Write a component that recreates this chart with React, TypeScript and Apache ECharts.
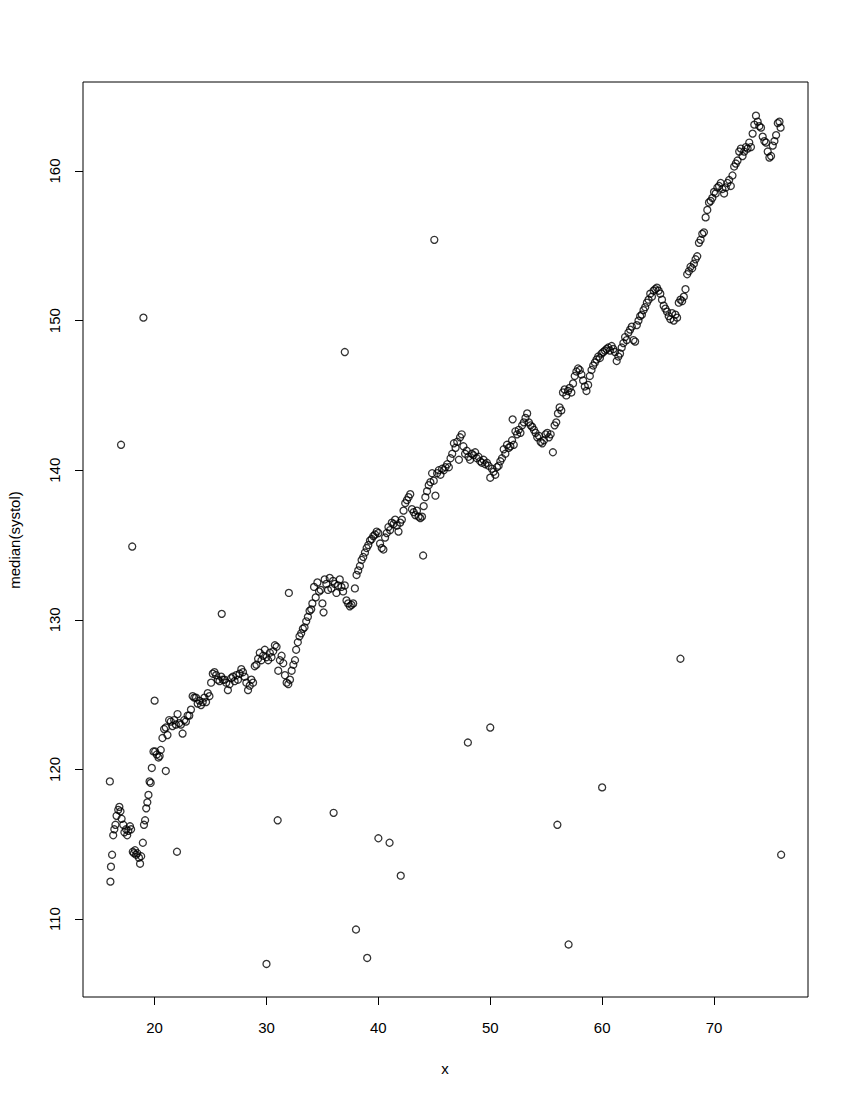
import React, { useEffect, useRef } from "react";
import * as echarts from "echarts";

// Smoothed-looking main band: x (age) and median systolic
const curveX = [
  16.05, 16.1, 16.2, 16.3, 16.4, 16.5, 16.6, 16.75, 16.85, 16.95, 17.05, 17.2, 17.3, 17.45, 17.55, 17.65, 17.8, 17.9,
  18.05, 18.15, 18.25, 18.35, 18.45, 18.6, 18.7, 18.8, 18.95, 19.05, 19.15, 19.25, 19.35, 19.45, 19.55, 19.65, 19.75, 19.9,
  20.05, 20.2, 20.35, 20.45, 20.55, 20.7, 20.85, 21.0, 21.15, 21.3, 21.45, 21.6, 21.75, 21.9, 22.05, 22.2, 22.35, 22.5,
  22.65, 22.8, 22.95, 23.1, 23.25, 23.4, 23.55, 23.7, 23.85, 24.0, 24.15, 24.3, 24.45, 24.6, 24.75, 24.9, 25.05, 25.2,
  25.35, 25.5, 25.65, 25.8, 25.95, 26.1, 26.25, 26.4, 26.55, 26.7, 26.85, 27.0, 27.15, 27.3, 27.45, 27.6, 27.75, 27.9,
  28.05, 28.2, 28.35, 28.5, 28.65, 28.8, 28.95, 29.1, 29.25, 29.4, 29.55, 29.7, 29.85, 30.0, 30.15, 30.3, 30.45, 30.6,
  30.75, 30.9, 31.05, 31.2, 31.35, 31.5, 31.65, 31.8, 31.95, 32.1, 32.25, 32.4, 32.55, 32.65, 32.8, 32.95, 33.1, 33.25,
  33.4, 33.55, 33.7, 33.85, 34.0, 34.1, 34.25, 34.4, 34.55, 34.7, 34.85, 35.0, 35.1, 35.2, 35.35, 35.5, 35.65, 35.8,
  35.95, 36.1, 36.25, 36.4, 36.55, 36.7, 36.85, 37.0, 37.15, 37.3, 37.45, 37.6, 37.75, 37.9, 38.05, 38.2, 38.35, 38.5,
  38.65, 38.8, 38.95, 39.1, 39.25, 39.4, 39.55, 39.7, 39.85, 40.0, 40.15, 40.3, 40.45, 40.6, 40.75, 40.9, 41.05, 41.2,
  41.35, 41.5, 41.65, 41.8, 41.95, 42.1, 42.25, 42.4, 42.55, 42.7, 42.85, 43.0, 43.15, 43.3, 43.45, 43.6, 43.75, 43.9,
  44.05, 44.2, 44.35, 44.5, 44.65, 44.8, 44.95, 45.1, 45.25, 45.4, 45.55, 45.7, 45.85, 46.0, 46.15, 46.3, 46.45, 46.6,
  46.75, 46.9, 47.05, 47.2, 47.3, 47.45, 47.6, 47.75, 47.9, 48.05, 48.2, 48.35, 48.5, 48.65, 48.8, 48.95, 49.1, 49.25,
  49.4, 49.55, 49.7, 49.85, 50.0, 50.15, 50.3, 50.45, 50.6, 50.75, 50.9, 51.05, 51.2, 51.35, 51.5, 51.65, 51.8, 51.95,
  52.1, 52.25, 52.4, 52.55, 52.7, 52.85, 53.0, 53.15, 53.3, 53.45, 53.6, 53.75, 53.9, 54.05, 54.2, 54.35, 54.5, 54.65,
  54.8, 54.95, 55.1, 55.25, 55.4, 55.6, 55.75, 55.9, 56.05, 56.2, 56.35, 56.5, 56.65, 56.8, 56.95, 57.1, 57.25, 57.4,
  57.55, 57.7, 57.85, 58.0, 58.15, 58.3, 58.45, 58.6, 58.75, 58.9, 59.05, 59.2, 59.35, 59.5, 59.65, 59.8, 59.95, 60.1,
  60.25, 60.4, 60.55, 60.7, 60.85, 61.0, 61.15, 61.3, 61.45, 61.6, 61.75, 61.9, 62.05, 62.2, 62.35, 62.5, 62.65, 62.8,
  62.95, 63.1, 63.25, 63.4, 63.55, 63.7, 63.85, 64.0, 64.15, 64.3, 64.45, 64.6, 64.75, 64.9, 65.05, 65.2, 65.35, 65.5,
  65.65, 65.8, 65.95, 66.1, 66.25, 66.4, 66.55, 66.7, 66.85, 67.0, 67.15, 67.3, 67.45, 67.6, 67.75, 67.9, 68.05, 68.2,
  68.35, 68.5, 68.65, 68.8, 68.95, 69.1, 69.25, 69.4, 69.55, 69.7, 69.85, 70.0, 70.15, 70.3, 70.45, 70.6, 70.75, 70.9,
  71.05, 71.2, 71.35, 71.5, 71.65, 71.8, 71.95, 72.1, 72.25, 72.4, 72.55, 72.7, 72.85, 73.0, 73.15, 73.3, 73.45, 73.6,
  73.75, 73.9, 74.05, 74.2, 74.35, 74.5, 74.65, 74.8, 74.95, 75.1, 75.25, 75.4, 75.55, 75.7, 75.85, 75.95,
];
const curveY = [
  112.5, 113.5, 114.3, 115.6, 116.0, 116.3, 116.9, 117.3, 117.5, 117.2, 116.7, 116.3, 115.8, 116.0, 115.6, 115.9, 116.2, 116.0,
  114.5, 114.4, 114.6, 114.3, 114.4, 114.1, 113.7, 114.2, 115.1, 116.3, 116.6, 117.4, 117.8, 118.3, 119.2, 119.1, 120.1, 121.2,
  121.2, 121.0, 120.8, 120.9, 121.3, 122.1, 122.7, 122.8, 122.3, 123.3, 123.2, 122.9, 123.3, 123.0, 123.7, 123.1, 123.0, 122.4,
  123.3, 123.2, 123.6, 123.6, 124.0, 124.9, 124.8, 124.8, 124.4, 124.6, 124.3, 124.5, 124.8, 124.5, 125.1, 124.9, 125.8, 126.4,
  126.5, 126.3, 126.0, 125.9, 126.2, 126.0, 126.0, 125.8, 125.3, 125.7, 126.1, 126.2, 125.9, 126.3, 126.0, 126.4, 126.7, 126.5,
  126.2, 125.8, 125.3, 125.6, 126.0, 125.8, 126.9, 127.0, 127.4, 127.8, 127.3, 127.6, 128.0, 127.5, 127.3, 127.8, 127.5, 127.9,
  128.3, 128.2, 126.6, 127.3, 127.6, 127.1, 126.3, 125.8, 125.7, 126.0, 126.6, 127.0, 127.3, 128.0, 128.5, 128.9, 129.1, 129.4,
  129.5, 129.9, 130.2, 130.6, 130.7, 131.1, 132.2, 131.5, 132.5, 131.9, 132.0, 131.1, 130.5, 132.7, 132.4, 132.0, 132.8, 132.1,
  132.6, 132.4, 131.8, 132.3, 132.7, 132.2, 131.9, 132.3, 131.3, 131.1, 130.9, 131.0, 131.1, 132.1, 133.0, 133.3, 133.6, 134.0,
  134.2, 134.5, 134.8, 135.0, 135.3, 135.4, 135.6, 135.7, 135.9, 135.8, 135.1, 134.8, 134.7, 135.5, 135.8, 136.2, 136.0, 136.5,
  136.4, 136.7, 136.3, 135.9, 136.5, 136.7, 137.3, 137.8, 138.0, 138.2, 138.4, 137.4, 137.2, 137.0, 137.3, 136.9, 136.8, 136.9,
  137.6, 138.2, 138.6, 139.0, 139.2, 139.8, 139.3, 138.3, 139.8, 140.0, 139.7, 140.1, 140.0, 140.2, 140.4, 140.2, 140.8, 141.1,
  141.8, 141.5, 141.9, 140.7, 142.2, 142.4, 141.6, 141.1, 141.3, 140.9, 140.7, 141.1, 141.0, 141.2, 140.8, 140.9, 140.6, 140.5,
  140.7, 140.4, 140.5, 140.3, 139.5, 140.1, 139.9, 139.7, 140.2, 140.3, 140.6, 140.8, 141.4, 141.1, 141.7, 141.5, 141.6, 142.0,
  141.7, 142.6, 142.4, 142.7, 142.5, 143.0, 143.2, 143.5, 143.8, 143.2, 143.0, 142.9, 142.7, 142.5, 142.2, 142.3, 141.9, 141.8,
  142.0, 142.4, 142.5, 142.2, 142.4, 141.2, 143.0, 143.2, 143.8, 144.2, 144.0, 145.2, 145.4, 145.0, 145.3, 145.5, 145.2, 145.8,
  146.3, 146.6, 146.8, 146.7, 146.4, 146.0, 145.6, 145.3, 145.7, 146.3, 146.7, 147.0, 147.2, 147.4, 147.6, 147.5, 147.8, 147.9,
  148.0, 148.1, 148.2, 148.0, 148.3, 148.1, 147.9, 147.3, 147.6, 147.8, 148.2, 148.5, 148.9, 148.7, 149.2, 149.4, 149.6, 148.7,
  148.6, 149.7, 150.0, 150.3, 150.4, 150.7, 150.9, 151.2, 151.4, 151.8, 151.6, 152.0, 152.1, 152.2, 152.0, 151.8, 151.4, 151.0,
  150.8, 150.6, 150.3, 150.1, 150.5, 150.0, 150.4, 150.2, 151.2, 151.4, 151.3, 151.6, 152.1, 153.1, 153.3, 153.6, 153.5, 153.8,
  154.1, 154.3, 155.2, 155.4, 155.8, 155.9, 156.9, 157.4, 157.9, 158.0, 158.2, 158.6, 158.5, 158.9, 159.0, 159.2, 158.8, 158.5,
  158.9, 159.2, 159.4, 159.0, 159.7, 160.3, 160.5, 160.7, 161.3, 161.5, 161.0, 161.3, 161.6, 161.5, 161.9, 161.6, 162.5, 163.1,
  163.7, 163.3, 163.0, 162.9, 162.3, 162.0, 161.9, 161.3, 160.9, 161.0, 161.7, 162.0, 162.4, 163.2, 163.3, 162.9,
];

// Scattered single-age points
const outlierX = [16, 17, 18, 19, 20, 21, 22, 26, 30, 31, 32, 36, 37, 38, 39, 40, 41, 42, 44, 45, 48, 50, 52, 56, 57, 60, 67, 76];
const outlierY = [
  119.2, 141.7, 134.9, 150.2, 124.6, 119.9, 114.5, 130.4, 107.0, 116.6, 131.8, 117.1, 147.9, 109.3, 107.4, 115.4, 115.1,
  112.9, 134.3, 155.4, 121.8, 122.8, 143.4, 116.3, 108.3, 118.8, 127.4, 114.3,
];

const xTicks = [20, 30, 40, 50, 60, 70];
const yTicks = [110, 120, 130, 140, 150, 160];

const FONT = "'Liberation Sans', Arial, Helvetica, sans-serif";

export default function App() {
  const ref = useRef<HTMLDivElement>(null);

  useEffect(() => {
    document.body.style.margin = "0";
    if (!ref.current) return;
    const chart = echarts.init(ref.current, undefined, { renderer: "svg" });

    const pts: number[][] = [];
    curveX.forEach((x, i) => pts.push([x, curveY[i]]));
    outlierX.forEach((x, i) => pts.push([x, outlierY[i]]));

    chart.setOption({
      animation: false,
      backgroundColor: "#ffffff",
      grid: {
        left: 83,
        right: 42,
        top: 82,
        bottom: 103,
        show: true,
        borderColor: "#000",
        borderWidth: 1,
        backgroundColor: "transparent",
      },
      xAxis: {
        type: "value",
        min: 13.6,
        max: 78.4,
        splitLine: { show: false },
        axisLine: { show: false },
        axisTick: { show: true, inside: false, length: 8, customValues: xTicks, lineStyle: { color: "#000" } },
        axisLabel: { customValues: xTicks, margin: 23, color: "#000", fontSize: 15, fontFamily: FONT },
      },
      yAxis: {
        type: "value",
        min: 104.79,
        max: 165.95,
        splitLine: { show: false },
        axisLine: { show: false },
        axisTick: { show: true, inside: false, length: 8, customValues: yTicks, lineStyle: { color: "#000" } },
        axisLabel: { customValues: yTicks, rotate: 90, margin: 21, color: "#000", fontSize: 15, fontFamily: FONT },
      },
      graphic: [
        {
          type: "text",
          x: 445,
          y: 1068,
          style: { text: "x", fill: "#000", font: `15px ${FONT}`, textAlign: "center", textVerticalAlign: "middle" },
        },
        {
          type: "text",
          x: 14,
          y: 540,
          rotation: Math.PI / 2,
          style: {
            text: "median(systol)",
            fill: "#000",
            font: `15px ${FONT}`,
            textAlign: "center",
            textVerticalAlign: "middle",
          },
        },
      ],
      series: [
        {
          type: "scatter",
          data: pts,
          symbol: "circle",
          symbolSize: 7,
          itemStyle: { color: "rgba(0,0,0,0)", borderColor: "#000", borderWidth: 1.3 },
          emphasis: { disabled: true },
        },
      ],
    });

    return () => chart.dispose();
  }, []);

  return <div ref={ref} style={{ width: 850, height: 1100 }} />;
}
